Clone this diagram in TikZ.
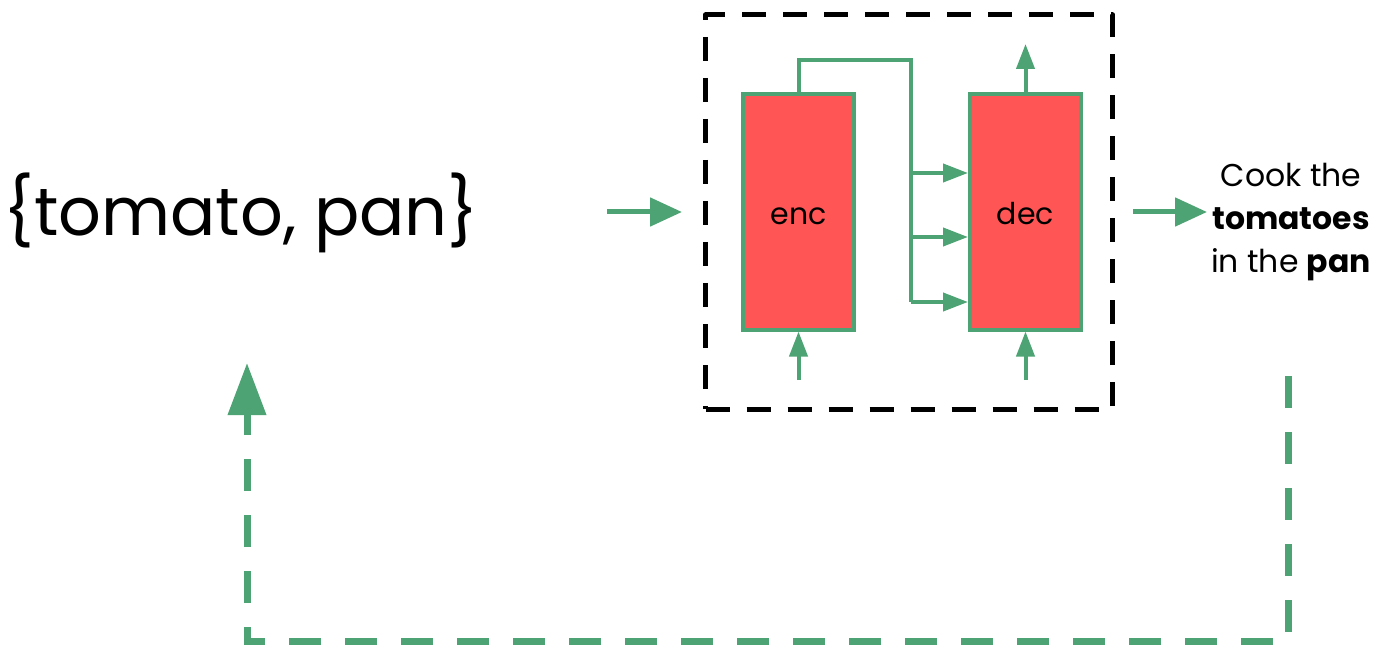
\documentclass[tikz,border=0pt]{standalone}
\usepackage{fontspec}
\setmainfont{Poppins}
\usetikzlibrary{arrows.meta}
\definecolor{grn}{HTML}{4DA374}
\definecolor{redbox}{HTML}{FF5555}
\tikzset{
  x=1pt,y=-1pt,
  block/.style={draw=grn,fill=redbox,line width=4pt,minimum width=111pt,minimum height=235pt,inner sep=0pt,font=\fontsize{30}{36}\selectfont},
  conn/.style={draw=grn,line width=4pt},
  smallarr/.style={conn,-{Triangle[length=25pt,width=18pt]}},
  bigarr/.style={draw=grn,line width=5pt,-{Triangle[length=32pt,width=28pt]}},
  framebox/.style={draw=black,line width=5pt,dash pattern=on 24pt off 17pt,line join=round},
  feedback/.style={draw=grn,line width=7pt,dash pattern=on 32pt off 24pt,-{Triangle[length=52pt,width=37pt]}},
}
\begin{document}
\begin{tikzpicture}
\useasboundingbox (0,0) rectangle (1379,647);
% frame
\node[framebox,minimum width=407pt,minimum height=394pt,inner sep=0pt] (frame) at (909,212) {};
% blocks
\node[block] (enc) at (798.5,212) {\raisebox{-13pt}[0pt][0pt]{enc}};
\node[block] (dec) at (1025.5,212) {\raisebox{-13pt}[0pt][0pt]{dec}};
% encoder to decoder
\coordinate (top) at (911,60);
\coordinate (b1) at (911,173);
\coordinate (b2) at (911,237);
\coordinate (b3) at (911,302);
\draw[conn] (enc.north) |- (top) -- (b3);
\draw[smallarr] (b1) -- (b1 -| dec.west);
\draw[smallarr] (b2) -- (b2 -| dec.west);
\draw[smallarr] (b3) -- (b3 -| dec.west);
% inputs and output of blocks
\coordinate (encin) at (798.5,380);
\coordinate (decin) at (1025.5,380);
\coordinate (decout) at (1025.5,44);
\draw[smallarr] (encin) -- (enc.south);
\draw[smallarr] (decin) -- (dec.south);
\draw[smallarr] (dec.north) -- (decout);
% texts
\node[font=\fontsize{67}{80}\selectfont,inner sep=0pt] (set) at (241,213) {\{tomato, pan\}};
\node[font=\fontsize{31.5}{43}\selectfont,align=center,inner sep=0pt] (out) at (1291,222) {Cook the\\\textbf{tomatoes}\\in the \textbf{pan}};
% main arrows
\coordinate (in1) at (607,212);
\coordinate (in2) at (682,212);
\draw[bigarr] (in1) -- (in2);
\coordinate (o1) at (1133,212);
\coordinate (o2) at (1207,212);
\draw[bigarr] (o1) -- (o2);
% feedback
\coordinate (f1) at (1288,376);
\coordinate (f2) at (1288,641);
\coordinate (f3) at (247,363);
\draw[feedback] (f1) -- (f2) -| (f3);
\end{tikzpicture}
\end{document}
